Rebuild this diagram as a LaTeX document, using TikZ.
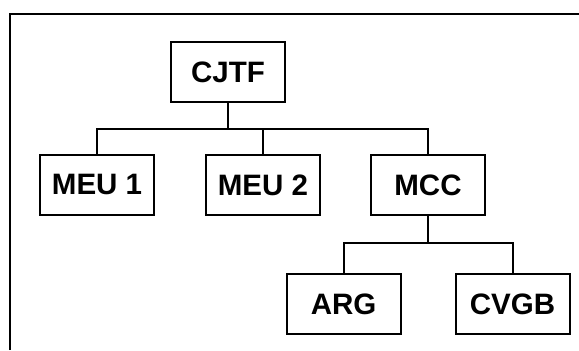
\documentclass[tikz,border=0pt]{standalone}
\usepackage{fontspec}
\setmainfont{Liberation Sans}
\usetikzlibrary{positioning}

\begin{document}
\begin{tikzpicture}[
    node distance=1.25cm,
    unit/.style={draw, rectangle, line width=1.4pt, minimum width=2.85cm, minimum height=1.5cm, inner sep=0pt, font=\fontsize{21}{25}\selectfont\bfseries},
    link/.style={line width=1.4pt}
]
\useasboundingbox (0,0) rectangle (14.475,-8.75);
% outer frame
\draw[link] (0.25,-8.75) -- (0.25,-0.35) -- (14.475,-0.35);

% command level
\node[unit] (cjtf) at (5.7,-1.8) {CJTF};
\node[unit, below=1.275cm of cjtf, xshift=0.875cm] (meu2) {MEU 2};
\node[unit, left=of meu2] (meu1) {MEU 1};
\node[unit, right=1.225cm of meu2] (mcc) {MCC};
\draw[link] (cjtf.south) -- ++(0,-0.65) coordinate (bus1);
\draw[link] (meu1.north) |- (bus1) -| (mcc.north);
\draw[link] (meu2.north) -- (meu2.north |- bus1);

% component level
\node[unit, below=1.425cm of mcc, xshift=-2.11cm] (arg) {ARG};
\node[unit, right=1.325cm of arg] (cvgb) {CVGB};
\draw[link] (mcc.south) -- ++(0,-0.675) coordinate (bus2);
\draw[link] (arg.north) |- (bus2) -| (cvgb.north);
\end{tikzpicture}
\end{document}
